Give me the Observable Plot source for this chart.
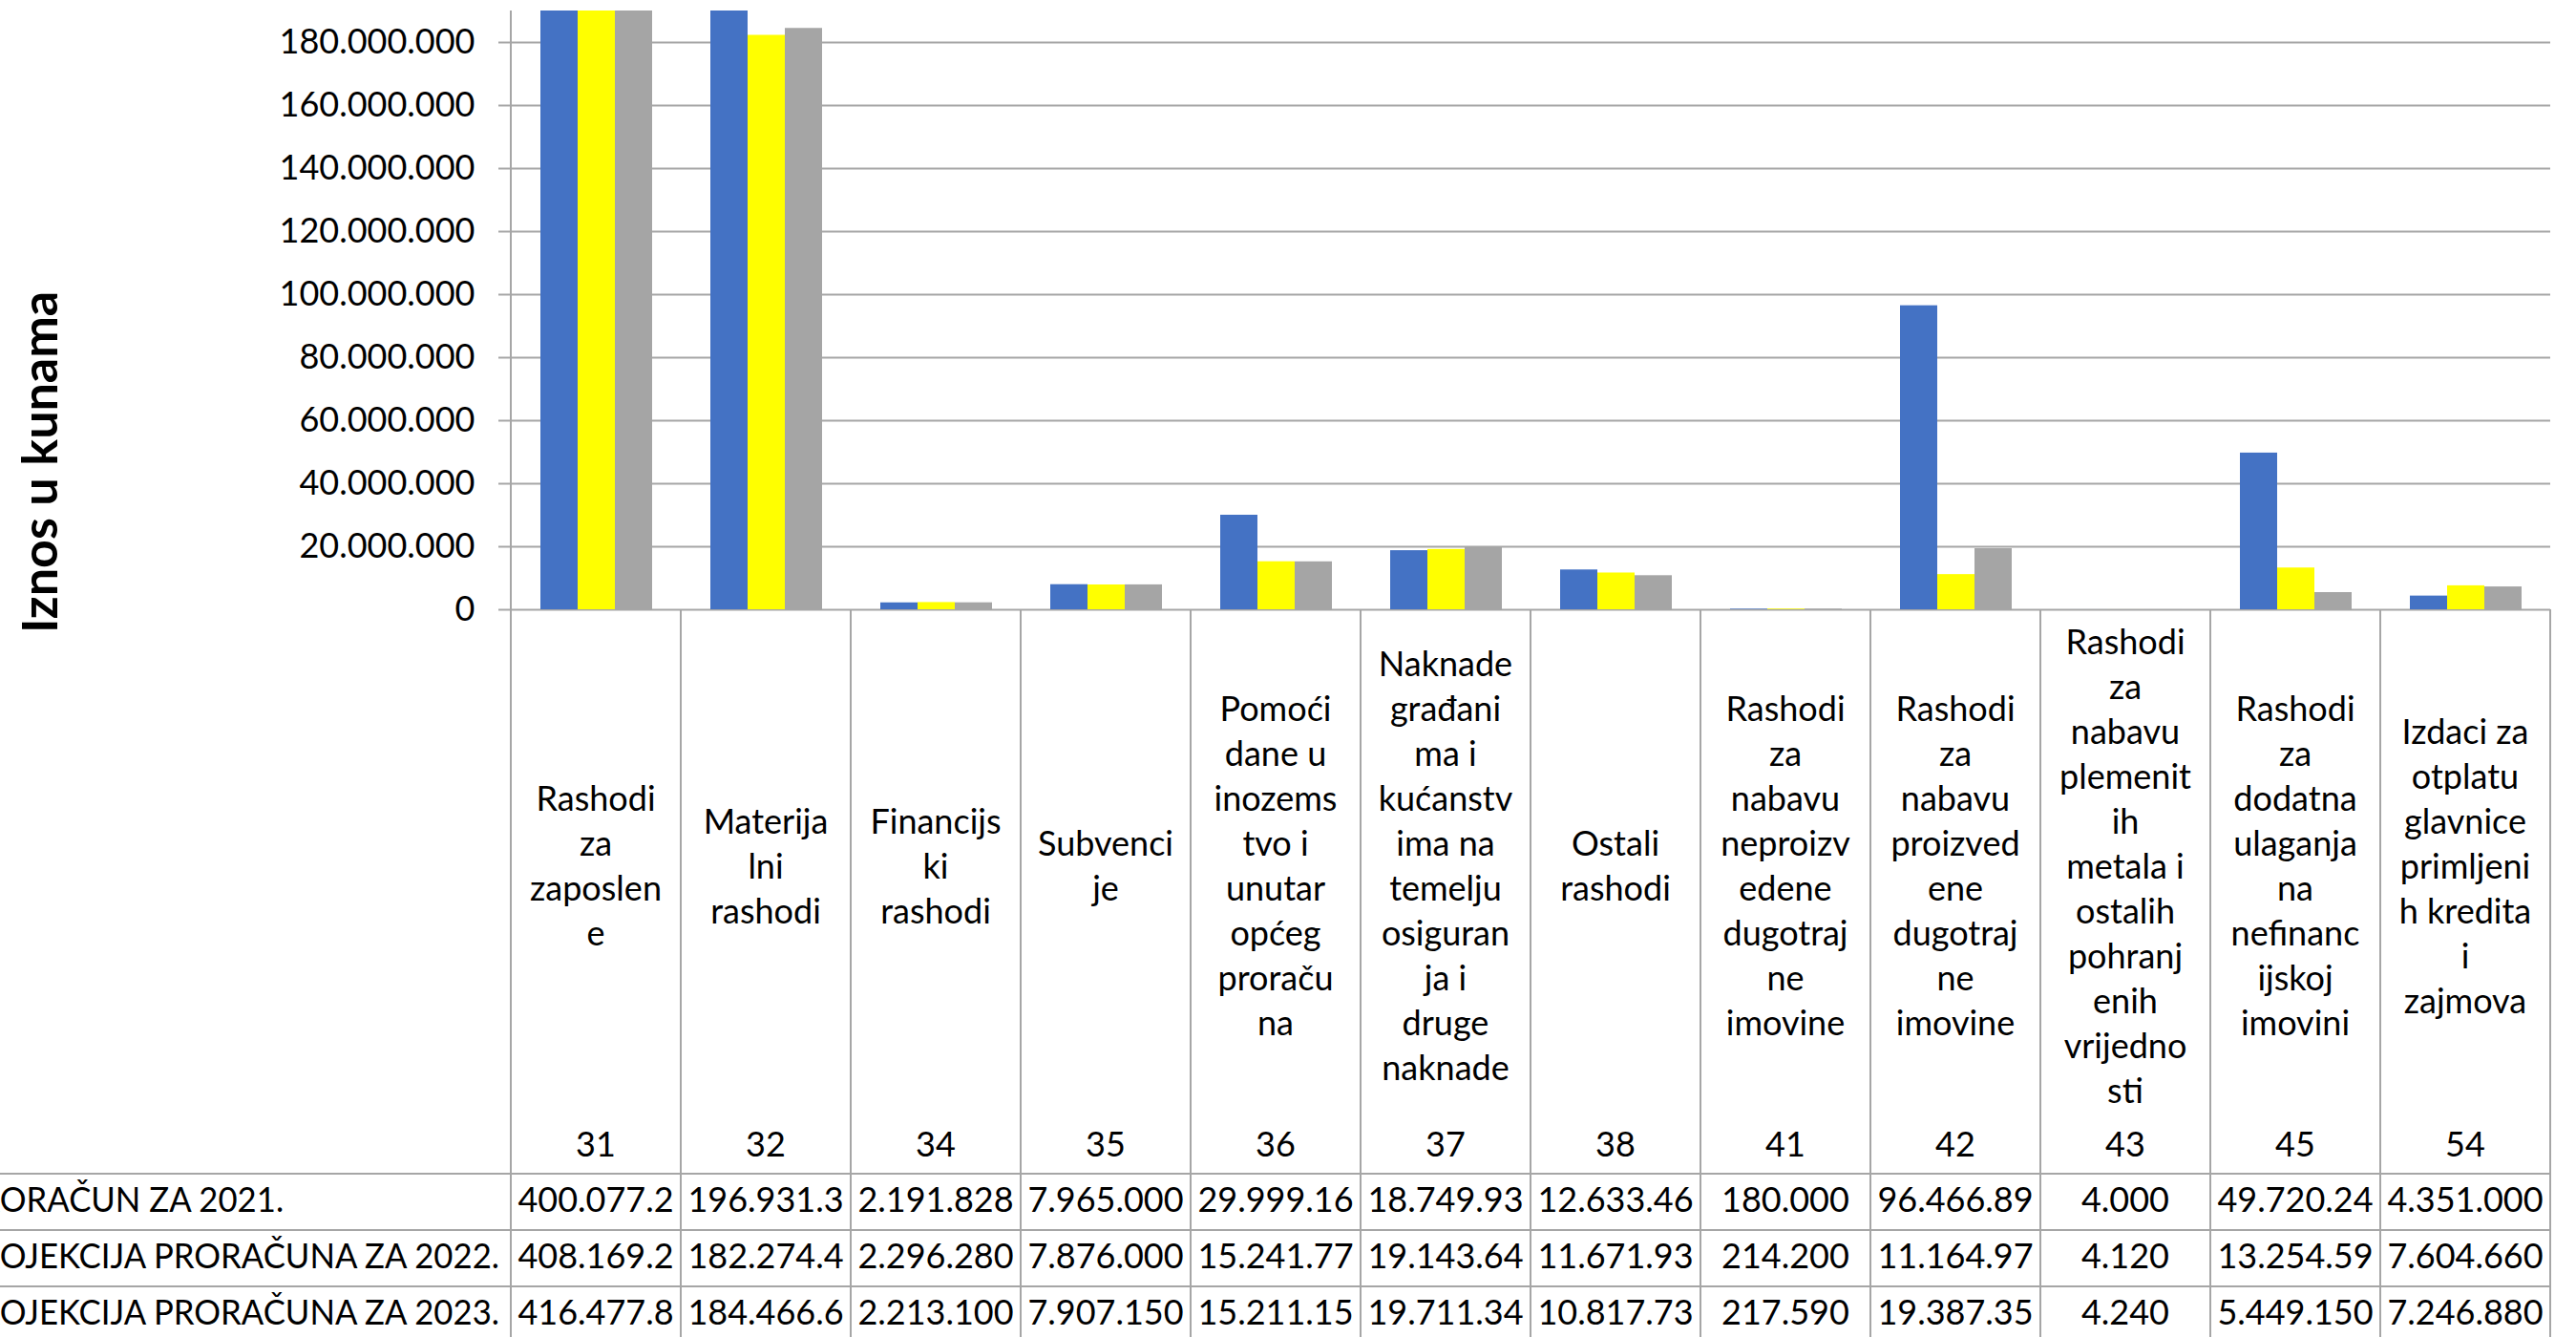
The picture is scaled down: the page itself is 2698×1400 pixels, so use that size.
<!DOCTYPE html>
<html><head><meta charset="utf-8">
<script src="https://cdn.jsdelivr.net/npm/d3@7"></script>
<script src="https://cdn.jsdelivr.net/npm/@observablehq/plot@0.6"></script>
<style>
html,body{margin:0;padding:0;background:#fff;}
#chart{width:2698px;height:1400px;overflow:hidden;position:relative;}
</style></head><body><div id="chart"></div>
<script>
// ---------- DATA ----------
const codes = ["31","32","34","35","36","37","38","41","42","43","45","54"];
const categoryLines = [
  ["Rashodi","za","zaposlen","e"],
  ["Materija","lni","rashodi"],
  ["Financijs","ki","rashodi"],
  ["Subvenci","je"],
  ["Pomoći","dane u","inozems","tvo i","unutar","općeg","proraču","na"],
  ["Naknade","građani","ma i","kućanstv","ima na","temelju","osiguran","ja i","druge","naknade"],
  ["Ostali","rashodi"],
  ["Rashodi","za","nabavu","neproizv","edene","dugotraj","ne","imovine"],
  ["Rashodi","za","nabavu","proizved","ene","dugotraj","ne","imovine"],
  ["Rashodi","za","nabavu","plemenit","ih","metala i","ostalih","pohranj","enih","vrijedno","sti"],
  ["Rashodi","za","dodatna","ulaganja","na","nefinanc","ijskoj","imovini"],
  ["Izdaci za","otplatu","glavnice","primljeni","h kredita","i","zajmova"]
];
const seriesNames = ["PRORAČUN ZA 2021.","PROJEKCIJA PRORAČUNA ZA 2022.","PROJEKCIJA PRORAČUNA ZA 2023."];
const seriesColors = ["#4472C4","#FFFF00","#A5A5A5"];
const values2021 = [400077200,196931300,2191828,7965000,29999160,18749930,12633460,180000,96466890,4000,49720240,4351000];
const values2022 = [408169200,182274400,2296280,7876000,15241770,19143640,11671930,214200,11164970,4120,13254590,7604660];
const values2023 = [416477800,184466600,2213100,7907150,15211150,19711340,10817730,217590,19387350,4240,5449150,7246880];
const text2021 = ["400.077.2","196.931.3","2.191.828","7.965.000","29.999.16","18.749.93","12.633.46","180.000","96.466.89","4.000","49.720.24","4.351.000"];
const text2022 = ["408.169.2","182.274.4","2.296.280","7.876.000","15.241.77","19.143.64","11.671.93","214.200","11.164.97","4.120","13.254.59","7.604.660"];
const text2023 = ["416.477.8","184.466.6","2.213.100","7.907.150","15.211.15","19.711.34","10.817.73","217.590","19.387.35","4.240","5.449.150","7.246.880"];
const yTicks = [0,20000000,40000000,60000000,80000000,100000000,120000000,140000000,160000000,180000000];
const yTickLabels = ["0","20.000.000","40.000.000","60.000.000","80.000.000","100.000.000","120.000.000","140.000.000","160.000.000","180.000.000"];
const yMax = 190000000;
const yTitle = "Iznos u kunama";

// ---------- BUILD ----------
const seriesValues = [values2021, values2022, values2023];
const seriesText = [text2021, text2022, text2023];
const data = [];
seriesNames.forEach((s, si) => codes.forEach((c, ci) => data.push({code: c, series: s, value: seriesValues[si][ci]})));

const W = 2698, H = 1400;
const FONT = "Lato, 'Open Sans', sans-serif";
const FS = 36;
const GRID = "#a6a6a6";
const mL = 531, mR = 23, mT = 11, mB = 762;

const chart = Plot.plot({
  width: W, height: H,
  marginTop: mT, marginRight: mR, marginBottom: mB, marginLeft: mL,
  style: {background: "#fff", fontFamily: FONT, fontSize: FS + "px", color: "#000", overflow: "visible"},
  fx: {domain: codes, padding: 0, axis: null, label: null},
  x: {domain: seriesNames, paddingInner: 0, paddingOuter: 0.766, axis: null},
  y: {domain: [0, yMax], axis: null},
  color: {domain: seriesNames, range: seriesColors},
  marks: [
    Plot.ruleY(yTicks, {stroke: GRID, strokeWidth: 2}),
    Plot.barY(data, {fx: "code", x: "series", y: "value", fill: "series", clip: true}),
    Plot.axisY({ticks: yTicks, tickFormat: d => yTickLabels[yTicks.indexOf(d)], tickSize: 13, tickPadding: 25,
      stroke: GRID, strokeWidth: 2, fill: "#000", fontSize: FS, label: null})
  ]
});
document.getElementById("chart").appendChild(chart);

// ---------- TABLE (built from Plot's scales) ----------
const svg = d3.select(chart);
let fxStart, bw;
try {
  const fxs = chart.scale("fx");
  bw = fxs.bandwidth;
  fxStart = c => fxs.apply(c);
  if (!isFinite(bw) || !isFinite(fxStart(codes[0]))) throw 0;
} catch (e) {
  bw = (W - mL - mR) / codes.length;
  fxStart = c => mL + codes.indexOf(c) * bw;
}
const ys = chart.scale("y");
const y0 = ys.apply(0), yTop = ys.apply(yMax);
const xLeft = fxStart(codes[0]);
const xRight = fxStart(codes[codes.length - 1]) + bw;

const g = svg.append("g").attr("font-family", FONT).attr("font-size", FS).attr("fill", "#000");
const rowTops = [1229, 1288, 1347];
const rowCenters = [1256, 1315, 1374];
const labelCenter = 907, lineStep = 47, codeCenter = 1198;
const capShift = FS * 0.36;

// vertical lines
g.append("line").attr("x1", xLeft).attr("x2", xLeft).attr("y1", yTop).attr("y2", H).attr("stroke", GRID).attr("stroke-width", 2);
codes.forEach((c, i) => {
  const x = fxStart(c) + bw;
  g.append("line").attr("x1", x).attr("x2", x).attr("y1", y0).attr("y2", H).attr("stroke", GRID).attr("stroke-width", 2);
});
// horizontal row lines
rowTops.forEach(yy => g.append("line").attr("x1", 0).attr("x2", xRight).attr("y1", yy).attr("y2", yy).attr("stroke", GRID).attr("stroke-width", 2));

// category labels and codes
codes.forEach((c, i) => {
  const cx = fxStart(c) + bw / 2;
  const lines = categoryLines[i];
  const first = labelCenter - (lines.length - 1) * lineStep / 2;
  lines.forEach((t, j) => g.append("text").attr("x", cx).attr("y", first + j * lineStep + capShift).attr("text-anchor", "middle").text(t));
  g.append("text").attr("x", cx).attr("y", codeCenter + capShift).attr("text-anchor", "middle").text(c);
  seriesText.forEach((arr, si) => {
    g.append("text").attr("x", cx).attr("y", rowCenters[si] + capShift).attr("text-anchor", "middle").text(arr[i]);
  });
});

// row labels: condensed horizontally so the longest label ends just left of the table,
// and left-clipped like the source
const measure = t => { const n = g.append("text").text(t); const w = n.node().getComputedTextLength(); n.remove(); return w; };
const longest = seriesNames.reduce((a, b) => measure(b) > measure(a) ? b : a);
const prW = measure(longest.slice(0, 2));
const labelEnd = xLeft - 12;
const k = labelEnd / (measure(longest) - prW);
seriesNames.forEach((s, si) => {
  g.append("text").attr("transform", `translate(${-prW * k},${rowCenters[si] + capShift}) scale(${k},1)`)
    .attr("text-anchor", "start").text(s);
});

// y title
g.append("text").attr("transform", `translate(60,484) rotate(-90)`).attr("text-anchor", "middle")
  .attr("font-weight", "bold").attr("font-size", 52).text(yTitle);
</script></body></html>
